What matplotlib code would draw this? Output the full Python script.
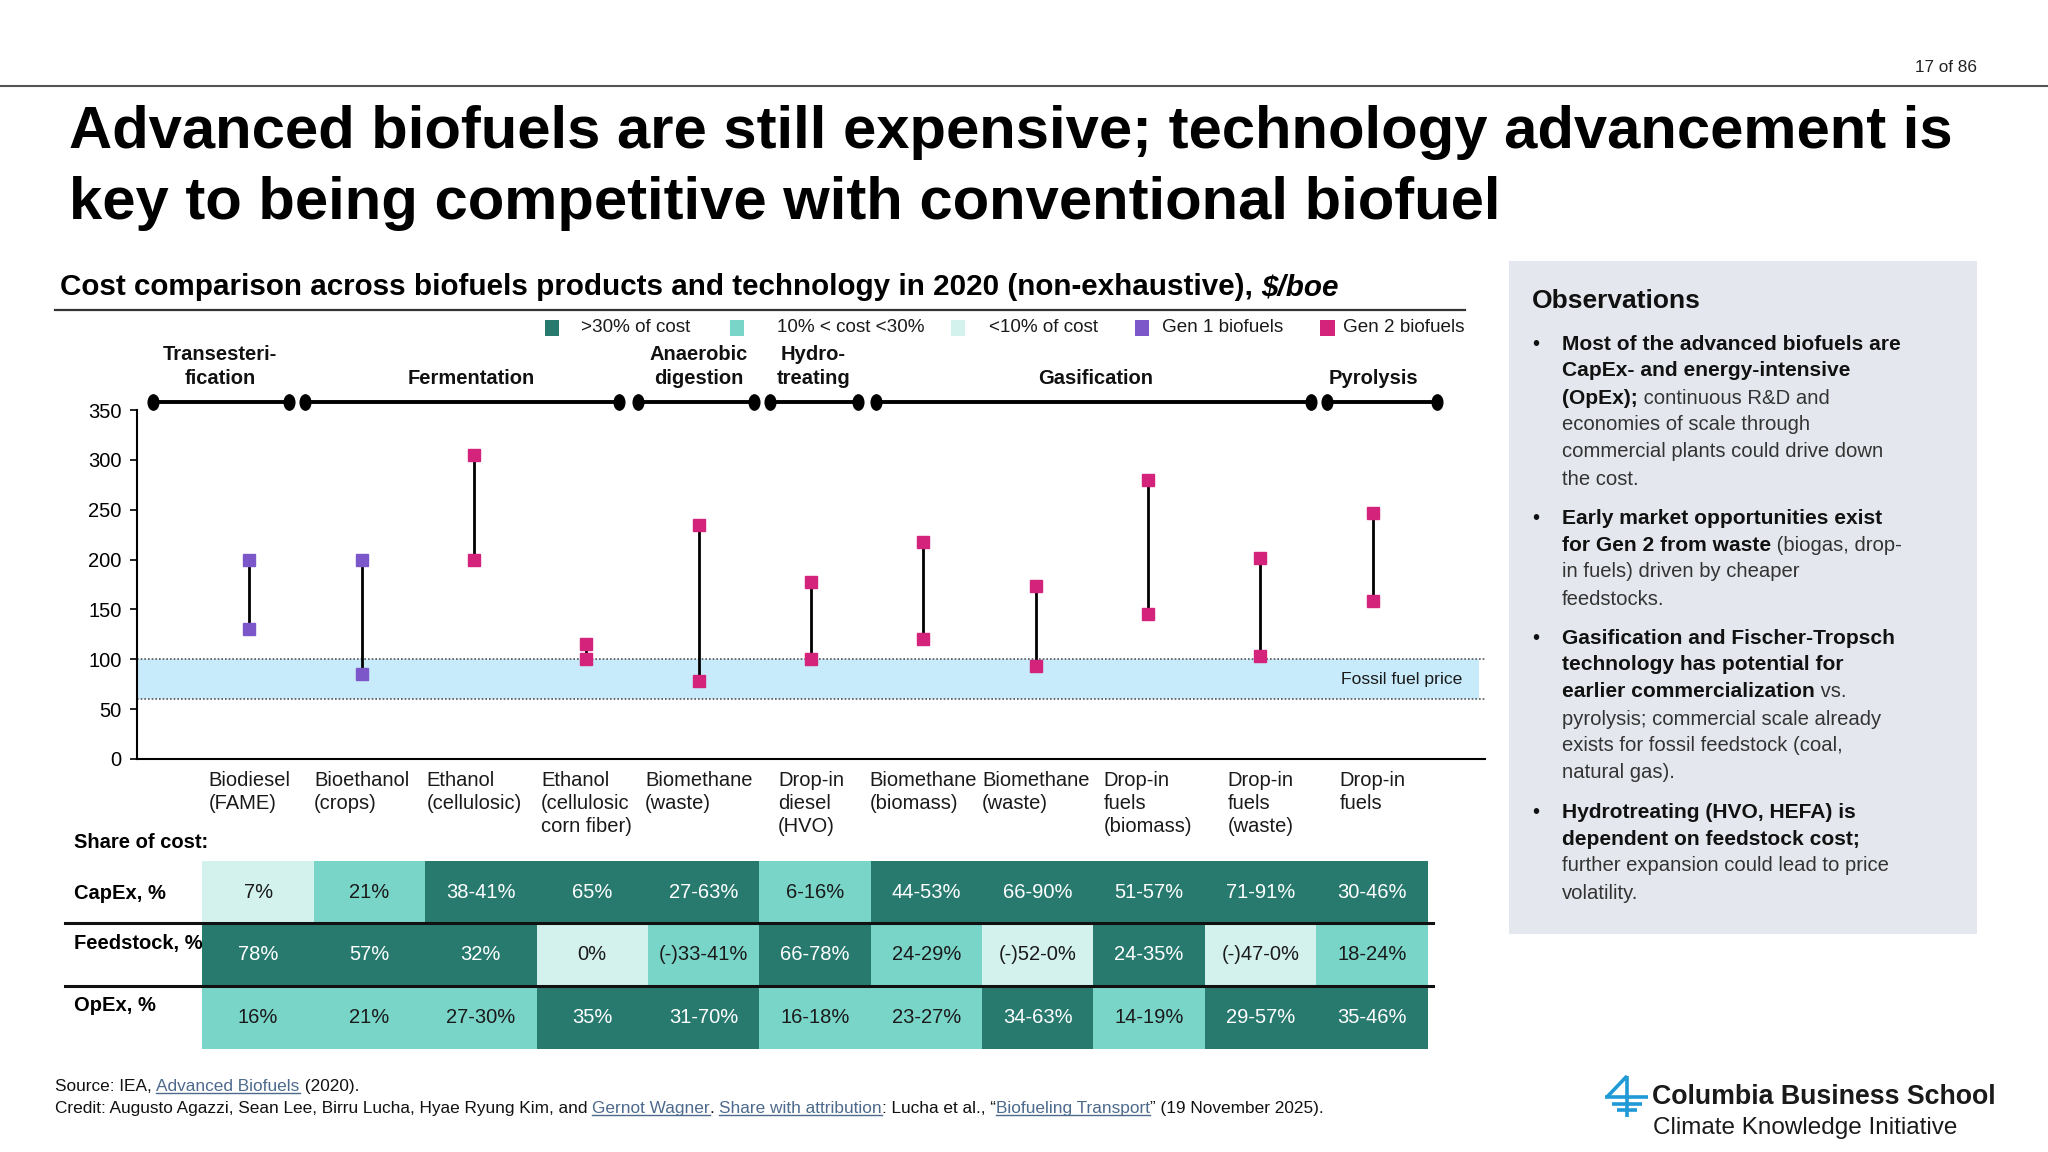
import matplotlib
matplotlib.use("Agg")
import matplotlib.pyplot as plt
from matplotlib.patches import Rectangle
from matplotlib.lines import Line2D
from matplotlib.path import Path
from matplotlib.markers import MarkerStyle
import matplotlib.transforms as mtransforms
import numpy as np

plt.rcParams['font.family'] = ['Liberation Sans', 'DejaVu Sans']

# ---------------- data ----------------
categories = ["Biodiesel\n(FAME)", "Bioethanol\n(crops)", "Ethanol\n(cellulosic)",
              "Ethanol\n(cellulosic\ncorn fiber)", "Biomethane\n(waste)",
              "Drop-in\ndiesel\n(HVO)", "Biomethane\n(biomass)", "Biomethane\n(waste)",
              "Drop-in\nfuels\n(biomass)", "Drop-in\nfuels\n(waste)", "Drop-in\nfuels"]
cost_low = [130, 85, 200, 100, 78, 100, 120, 93, 145, 103, 158]
cost_high = [200, 200, 305, 115, 235, 177, 218, 173, 280, 202, 247]
generation = [1, 1, 2, 2, 2, 2, 2, 2, 2, 2, 2]
fossil_low, fossil_high = 60, 100
y_ticks = [0, 50, 100, 150, 200, 250, 300, 350]

processes = ["Transesteri-\nfication", "Fermentation", "Anaerobic\ndigestion",
             "Hydro-\ntreating", "Gasification", "Pyrolysis"]

row_labels = ["CapEx, %", "Feedstock, %", "OpEx, %"]
capex = ["7%", "21%", "38-41%", "65%", "27-63%", "6-16%", "44-53%", "66-90%",
         "51-57%", "71-91%", "30-46%"]
feedstock = ["78%", "57%", "32%", "0%", "(-)33-41%", "66-78%", "24-29%", "(-)52-0%",
             "24-35%", "(-)47-0%", "18-24%"]
opex = ["16%", "21%", "27-30%", "35%", "31-70%", "16-18%", "23-27%", "34-63%",
        "14-19%", "29-57%", "35-46%"]
# share level: 2 = >30%, 1 = 10-30%, 0 = <10%
capex_level = [0, 1, 2, 2, 2, 1, 2, 2, 2, 2, 2]
feedstock_level = [2, 2, 2, 0, 1, 2, 1, 0, 2, 0, 1]
opex_level = [1, 1, 1, 2, 2, 1, 1, 2, 1, 2, 2]

legend_labels = [">30% of cost", "10% < cost <30%", "<10% of cost", "Gen 1 biofuels", "Gen 2 biofuels"]

# ---------------- layout / style ----------------
DARK = '#287a6f'
MED = '#7ad5c9'
LIGHT = '#d3f2ee'
PURPLE = '#7b57c9'
PINK = '#d4237a'
BAND = '#c7ebfb'
level_colors = {2: DARK, 1: MED, 0: LIGHT}
process_spans = [(-0.86, 0.35), (0.49, 3.29), (3.46, 4.49), (4.63, 5.42), (5.58, 9.45), (9.59, 10.57)]
process_label_x = [-0.26, 1.97, 4.0, 5.02, 7.53, 10.01]

W, H = 2048, 1152
fig = plt.figure(figsize=(W / 100, H / 100), dpi=100)
fig.patch.set_facecolor('white')


def X(x):
    return x / 1568.0


def Y(y):
    return 1 - y / 882.0


renderer = fig.canvas.get_renderer()

# header line and page number
fig.add_artist(Line2D([0, 1], [Y(66), Y(66)], color='#555555', lw=1.5))
fig.text(X(1514), Y(55), "17 of 86", ha='right', va='baseline', fontsize=12.3, color='#222222')

# title
fig.text(X(53), Y(113), "Advanced biofuels are still expensive; technology advancement is",
         fontsize=43, fontweight='bold', va='baseline', ha='left', color='black')
fig.text(X(53), Y(168), "key to being competitive with conventional biofuel",
         fontsize=43, fontweight='bold', va='baseline', ha='left', color='black')

# subtitle (bold + bold italic)
t1 = fig.text(X(46), Y(226), "Cost comparison across biofuels products and technology in 2020 (non-exhaustive), ",
              fontsize=21.3, fontweight='bold', va='baseline', ha='left')
bb = t1.get_window_extent(renderer)
fig.text(bb.x1 / W, Y(226), "$/boe", fontsize=21.3, fontweight='bold', fontstyle='italic',
         va='baseline', ha='left')
fig.add_artist(Line2D([X(42), X(1122)], [Y(237), Y(237)], color='#333333', lw=1.6))

# legend
leg_sq_x = [417, 559, 728, 869, 1011]
leg_txt_x = [445, 595, 757, 890, 1028]
leg_colors = [DARK, MED, LIGHT, PURPLE, PINK]
for sx, tx, c, lab in zip(leg_sq_x, leg_txt_x, leg_colors, legend_labels):
    fig.add_artist(Rectangle((X(sx), Y(257)), X(11), 12 / 882.0, color=c, lw=0))
    fig.text(X(tx), Y(251), lab, fontsize=13.6, va='center', ha='left', color='#1a1a1a')

# ---------------- main axes ----------------
ax = fig.add_axes([X(105), Y(581), X(1137) - X(105), Y(314) - Y(581)])
ax.set_xlim(-1, 11)
ax.set_ylim(0, 350)
for s in ['top', 'right']:
    ax.spines[s].set_visible(False)
ax.spines['left'].set_linewidth(1.5)
ax.spines['bottom'].set_linewidth(1.5)
ax.set_yticks(y_ticks)
ax.set_yticklabels([str(v) for v in y_ticks], fontsize=14.5)
ax.tick_params(axis='y', length=5, width=1.2, pad=6)
ax.set_xticks([])

# fossil band
ax.fill_between([-1, 10.95], fossil_low, fossil_high, color=BAND, lw=0, zorder=1)
for yv in (fossil_low, fossil_high):
    ax.plot([-1, 11], [yv, yv], ls=(0, (1, 1.2)), color='#555555', lw=1.2, zorder=2)
ax.text(10.8, (fossil_low + fossil_high) / 2, "Fossil fuel price", ha='right', va='center',
        fontsize=12.6, color='#1a1a1a', zorder=3)

# ranges
xs = np.arange(len(categories))
for i in xs:
    c = PURPLE if generation[i] == 1 else PINK
    ax.plot([i, i], [cost_low[i], cost_high[i]], color='black', lw=2.0, zorder=3)
    ax.plot([i, i], [cost_low[i], cost_high[i]], ls='none', marker='s', ms=8,
            color=c, zorder=4)

# process line
circ = Path.unit_circle()
ell = Path(circ.vertices * np.array([0.7, 1.0]), circ.codes)
proc_y = 358
trans = mtransforms.blended_transform_factory(ax.transData, fig.transFigure)
for (a, b), lx, name in zip(process_spans, process_label_x, processes):
    ax.plot([a, b], [proc_y, proc_y], color='black', lw=2.8, clip_on=False, zorder=5)
    ax.plot([a, b], [proc_y, proc_y], ls='none', marker=MarkerStyle(ell), ms=11,
            color='black', clip_on=False, zorder=6)
    lines = name.split("\n")
    for k, ln in enumerate(reversed(lines)):
        ax.text(lx, Y(294 - 18 * k), ln, transform=trans, ha='center', va='baseline',
                fontsize=14.5, fontweight='bold', color='#111111')

# category labels
for i, lab in enumerate(categories):
    ax.text(i, Y(590), lab, transform=trans, ha='center', va='top', multialignment='left',
            fontsize=14.5, color='#1a1a1a', linespacing=1.27)

fig.text(X(57), Y(645), "Share of cost:", fontsize=14.5, fontweight='bold', va='center', ha='left')

# ---------------- table ----------------
tax = fig.add_axes([X(155), Y(803), X(1093) - X(155), Y(659) - Y(803)])
tax.set_xlim(0, 11)
tax.set_ylim(3, 0)
tax.axis('off')
rows = [(capex, capex_level), (feedstock, feedstock_level), (opex, opex_level)]
for r, (vals, levels) in enumerate(rows):
    for c, (v, lv) in enumerate(zip(vals, levels)):
        tax.add_patch(Rectangle((c, r), 1, 1, color=level_colors[lv], lw=0))
        tax.text(c + 0.5, r + 0.5, v, ha='center', va='center', fontsize=14.5,
                 color='white' if lv == 2 else '#1a1a1a')

for yy in (707, 755):
    fig.add_artist(Line2D([X(50), X(1097)], [Y(yy), Y(yy)], color='#111111', lw=2.2))

fig.text(X(57), Y(684), row_labels[0], fontsize=14.5, fontweight='bold', va='center', ha='left')
fig.text(X(57), Y(722), row_labels[1], fontsize=14.5, fontweight='bold', va='center', ha='left')
fig.text(X(57), Y(770), row_labels[2], fontsize=14.5, fontweight='bold', va='center', ha='left')

# ---------------- observations panel ----------------
fig.add_artist(Rectangle((X(1155), Y(715)), X(1514) - X(1155), (715 - 200) / 882.0,
                         color='#e4e8ee', lw=0, zorder=0))
fig.text(X(1173), Y(236), "Observations", fontsize=19, fontweight='bold', va='baseline',
         ha='left', color='#111111')

obs_lines = [
    (263, True, [("Most of the advanced biofuels are", True)]),
    (283, False, [("CapEx- and energy-intensive", True)]),
    (304, False, [("(OpEx);", True), (" continuous R&D and", False)]),
    (324, False, [("economies of scale through", False)]),
    (345, False, [("commercial plants could drive down", False)]),
    (366, False, [("the cost.", False)]),
    (396, True, [("Early market opportunities exist", True)]),
    (417, False, [("for Gen 2 from waste", True), (" (biogas, drop-", False)]),
    (437, False, [("in fuels) driven by cheaper", False)]),
    (458, False, [("feedstocks.", False)]),
    (488, True, [("Gasification and Fischer-Tropsch", True)]),
    (508, False, [("technology has potential for", True)]),
    (529, False, [("earlier commercialization", True), (" vs.", False)]),
    (550, False, [("pyrolysis; commercial scale already", False)]),
    (570, False, [("exists for fossil feedstock (coal,", False)]),
    (591, False, [("natural gas).", False)]),
    (621, True, [("Hydrotreating (HVO, HEFA) is", True)]),
    (642, False, [("dependent on feedstock cost;", True)]),
    (662, False, [("further expansion could lead to price", False)]),
    (683, False, [("volatility.", False)]),
]
for yc, bullet, parts in obs_lines:
    yb = Y(yc + 5)
    if bullet:
        fig.text(X(1173), yb, "\u2022", fontsize=14.5, va='baseline', ha='left', color='#111111')
    xp = X(1196)
    for txt, bold in parts:
        t = fig.text(xp, yb, txt, fontsize=15.1 if bold else 14.6,
                     fontweight='bold' if bold else 'normal',
                     va='baseline', ha='left', color='#111111' if bold else '#333333')
        xp = t.get_window_extent(renderer).x1 / W

# ---------------- footer ----------------
LINK = '#4d6a8c'


def rich_line(x0, ybase, parts, fs=12.4):
    xp = x0
    for txt, link in parts:
        t = fig.text(xp, ybase, txt, fontsize=fs, va='baseline', ha='left',
                     color=LINK if link else '#111111')
        bbx = t.get_window_extent(renderer)
        if link:
            yl = ybase - 2.5 / H
            fig.add_artist(Line2D([bbx.x0 / W, bbx.x1 / W], [yl, yl], color=LINK, lw=1.0))
        xp = bbx.x1 / W


rich_line(X(42), Y(835), [("Source: IEA, ", False), ("Advanced Biofuels", True), (" (2020).", False)])
rich_line(X(42), Y(852), [("Credit: Augusto Agazzi, Sean Lee, Birru Lucha, Hyae Ryung Kim, and ", False),
                          ("Gernot Wagner", True), (". ", False), ("Share with attribution", True),
                          (": Lucha et al., \u201c", False), ("Biofueling Transport", True),
                          ("\u201d (19 November 2025).", False)])

# logo
BLUE = '#1f9ad6'
logo_lines = [
    ((1627, 1076), (1627, 1117)),
    ((1627, 1076), (1607, 1097)),
    ((1605, 1097), (1648, 1097)),
    ((1612, 1104), (1642, 1104)),
    ((1617, 1110), (1637, 1110)),
]
for (x0, y0), (x1, y1) in logo_lines:
    fig.add_artist(Line2D([x0 / W, x1 / W], [1 - y0 / H, 1 - y1 / H], color=BLUE, lw=2.6,
                          solid_capstyle='butt'))
fig.text(1652 / W, 1 - 1104 / H, "Columbia Business School", fontsize=19.3, fontweight='bold',
         va='baseline', ha='left', color='#1a1a1a')
fig.text(1653 / W, 1 - 1134 / H, "Climate Knowledge Initiative", fontsize=17.5,
         va='baseline', ha='left', color='#1a1a1a')

fig.savefig("out.png", dpi=100, facecolor='white')
